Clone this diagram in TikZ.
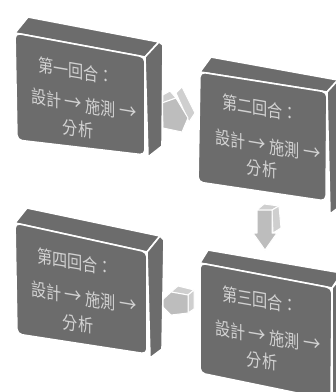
\documentclass[tikz,border=0pt]{standalone}
\usepackage{fontspec}
\newfontfamily\cjk{Noto Sans CJK TC}
\definecolor{boxgray}{HTML}{6C6C6C}
\definecolor{txtgray}{HTML}{D2D2D2}
\definecolor{arrfront}{HTML}{BDBDBD}
\definecolor{arrside}{HTML}{CFCFCF}
\newcommand\narrow[1]{\scalebox{0.84}[1]{#1}}
\newcommand\arr{\scalebox{1.15}{→}}
\begin{document}
\begin{tikzpicture}[x=1pt,y=-1pt,
  face/.style={fill=boxgray,draw=white,line width=1.6pt,line join=round},
  front/.style={face,rounded corners=5pt},
  afront/.style={fill=arrfront,draw=white,line width=1pt,line join=round},
  aside/.style={fill=arrside,draw=white,line width=1pt,line join=round},
  lbl/.style={text=txtgray,font=\cjk\fontsize{18}{20}\selectfont,inner sep=0pt,yslant=-0.17}]
\useasboundingbox[fill=white] (0,0) rectangle (336,392);

% ---- arrows (behind boxes) ----
% arrow 1 (right)
\draw[aside] (161,96) -- (170,91) -- (176,98) -- (162,103) -- cycle;
\draw[aside] (176,93) -- (182,87) -- (195,113) -- (189,122) -- cycle;
\draw[afront] (162,103) -- (176,98) -- (188,118) -- (182,132) -- (163,128) -- cycle;
% arrow 2 (down)
\draw[aside] (257,210) -- (264,204) -- (279,206) -- (272,210) -- cycle;
\draw[aside] (272,210) -- (279,206) -- (281,228) -- (273,233) -- cycle;
\draw[afront] (257,210) -- (272,210) -- (272,233) -- (277,233) -- (265,250) -- (253,233) -- (257,233) -- cycle;
% arrow 3 (left)
\draw[aside] (171,292) -- (178,286) -- (194,290) -- (188,295) -- cycle;
\draw[aside] (188,295) -- (194,290) -- (194,309) -- (188,313) -- cycle;
\draw[afront] (159,303) -- (171,292) -- (188,295) -- (188,313) -- (171,315) -- cycle;

% ---- box 1 ----
\draw[face] (15,33) -- (28,17) -- (159,42) -- (145,57) -- cycle;
\draw[face] (145,57) -- (159,42) -- (163,45) -- (162,146) -- (148,157) -- cycle;
\draw[front] (15,33) -- (145,57) -- (145,155) -- (17,140) -- cycle;
\node[lbl] (t1a) at (76,71) {\narrow{第一回合：}};
\node[lbl] (t1b) at (84,105) {\narrow{設計 \arr{} 施測 \arr}};
\node[lbl] (t1c) at (78,129) {\narrow{分析}};

% ---- box 2 ----
\draw[face] (200,72) -- (211,57) -- (338,80) -- (327,92) -- cycle;
\draw[face] (327,92) -- (338,80) -- (342,82) -- (342,205) -- (330,214) -- cycle;
\draw[front] (200,72) -- (327,92) -- (326,201) -- (198,182) -- cycle;
\node[lbl] (t2a) at (260,108) {\narrow{第二回合：}};
\node[lbl] (t2b) at (268,146) {\narrow{設計 \arr{} 施測 \arr}};
\node[lbl] (t2c) at (262,169) {\narrow{分析}};

% ---- box 4 ----
\draw[face] (15,223) -- (27,208) -- (160,236) -- (147,252) -- cycle;
\draw[face] (147,252) -- (160,236) -- (164,240) -- (162,349) -- (150,358) -- cycle;
\draw[front] (15,223) -- (147,252) -- (147,354) -- (17,334) -- cycle;
\node[lbl] (t4a) at (75,262) {\narrow{第四回合：}};
\node[lbl] (t4b) at (84,298) {\narrow{設計 \arr{} 施測 \arr}};
\node[lbl] (t4c) at (78,324) {\narrow{分析}};

% ---- box 3 ----
\draw[face] (200,263) -- (208,250) -- (342,273) -- (332,288) -- cycle;
\draw[face] (332,288) -- (342,276) -- (342,400) -- (332,400) -- cycle;
\draw[front] (200,263) -- (332,288) -- (331,400) -- (200,373) -- cycle;
\node[lbl] (t3a) at (260,300) {\narrow{第三回合：}};
\node[lbl] (t3b) at (268,337) {\narrow{設計 \arr{} 施測 \arr}};
\node[lbl] (t3c) at (262,361) {\narrow{分析}};
\end{tikzpicture}
\end{document}
